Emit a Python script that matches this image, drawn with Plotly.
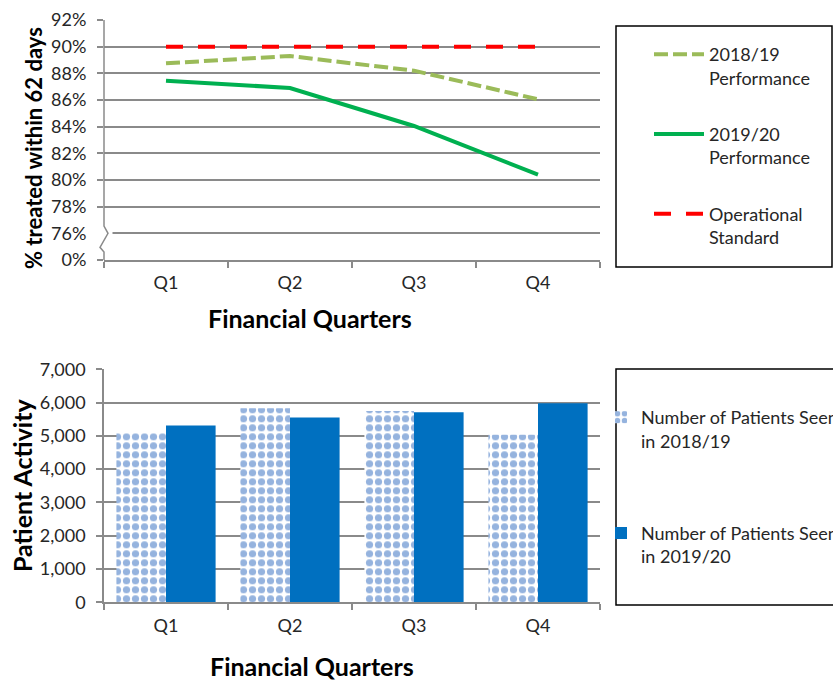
import plotly.graph_objects as go

quarters = ["Q1", "Q2", "Q3", "Q4"]
perf_2018 = [88.75, 89.3, 88.2, 86.05]
perf_2019 = [87.45, 86.9, 84.05, 80.4]
standard = [90, 90, 90, 90]

patients_2018 = [5080, 5830, 5750, 5030]
patients_2019 = [5310, 5550, 5710, 5980]

pct_tickvals = [74, 76, 78, 80, 82, 84, 86, 88, 90, 92]
pct_ticktext = ["0%", "76%", "78%", "80%", "82%", "84%", "86%", "88%", "90%", "92%"]

W, H = 833, 681
FONT = "Lato, 'Open Sans', sans-serif"
GRID = "#8a8a8a"
TXT = "#262626"

def px(x):
    return x / W

def py(y):
    return 1 - y / H

fig = go.Figure()

fig.add_trace(go.Scatter(x=quarters, y=perf_2018, mode="lines", name="2018/19<br>Performance",
                         line=dict(color="#9BBB59", width=4, dash="14px,5px"),
                         xaxis="x", yaxis="y", legend="legend", legendgroup="a"))
fig.add_trace(go.Scatter(x=quarters, y=perf_2019, mode="lines", name="2019/20<br>Performance",
                         line=dict(color="#00B050", width=4),
                         xaxis="x", yaxis="y", legend="legend", legendgroup="b"))
fig.add_trace(go.Scatter(x=quarters, y=standard, mode="lines", name="Operational<br>Standard",
                         line=dict(color="#FF0000", width=4, dash="17px,15px"),
                         xaxis="x", yaxis="y", legend="legend", legendgroup="c"))

fig.add_trace(go.Bar(x=quarters, y=patients_2018, name="Number of Patients Seen<br>in 2018/19",
                     marker=dict(color="white", line=dict(width=0),
                                 pattern=dict(shape=".", fgcolor="#95B3DE", bgcolor="white",
                                              size=9, solidity=0.5, fillmode="replace")),
                     xaxis="x2", yaxis="y2", legend="legend2", legendgroup="d"))
fig.add_trace(go.Bar(x=quarters, y=patients_2019, name="Number of Patients Seen<br>in 2019/20",
                     marker=dict(color="#0070C0", line=dict(width=0)),
                     xaxis="x2", yaxis="y2", legend="legend2", legendgroup="e"))

xdom = [px(104), px(600)]
TICKFONT = dict(family=FONT, size=18, color=TXT)
xaxis_common = dict(showline=True, linecolor=GRID, linewidth=1.5, type="category",
                    tickson="boundaries", showgrid=False, range=[-0.5, 3.5],
                    ticks="outside", tickcolor=GRID, ticklen=6, tickwidth=1.5,
                    ticklabelstandoff=6, tickfont=TICKFONT)

fig.update_layout(
    width=W, height=H,
    margin=dict(l=0, r=0, t=0, b=0, autoexpand=False),
    paper_bgcolor="white", plot_bgcolor="white",
    barmode="group", bargap=0.2, bargroupgap=0,
    font=dict(family=FONT, color=TXT),
    xaxis=dict(domain=xdom, anchor="y", **xaxis_common),
    yaxis=dict(domain=[py(260), py(20)], anchor="x", range=[74, 92],
               tickvals=pct_tickvals, ticktext=pct_ticktext,
               showgrid=True, gridcolor=GRID, gridwidth=1.5, zeroline=False,
               ticks="outside", tickcolor=GRID, ticklen=6, tickwidth=1.5,
               ticklabelstandoff=7, showline=False, tickfont=TICKFONT),
    xaxis2=dict(domain=xdom, anchor="y2", **xaxis_common),
    yaxis2=dict(domain=[py(602.3), py(369.3)], anchor="x2", range=[0, 7000],
                dtick=1000, tickformat=",", showgrid=True, gridcolor=GRID, gridwidth=1.5,
                zeroline=False, showline=True, linecolor=GRID, linewidth=1.5,
                ticks="outside", tickcolor=GRID, ticklen=6, tickwidth=1.5,
                ticklabelstandoff=7, tickfont=TICKFONT),
    legend=dict(x=px(649), y=py(36), xanchor="left", yanchor="top",
                bgcolor="rgba(0,0,0,0)", borderwidth=0, valign="top",
                itemwidth=50, tracegroupgap=30, traceorder="grouped",
                font=dict(family=FONT, size=18, color=TXT)),
    legend2=dict(x=px(601), y=py(399), xanchor="left", yanchor="top",
                 bgcolor="rgba(0,0,0,0)", borderwidth=0, valign="top",
                 tracegroupgap=66, traceorder="grouped",
                 font=dict(family=FONT, size=18, color=TXT)),
    showlegend=True,
)

shapes = [
    dict(type="rect", xref="paper", yref="paper", x0=px(616), x1=px(832), y0=py(267), y1=py(26),
         line=dict(color="black", width=1.5), fillcolor="rgba(0,0,0,0)"),
    dict(type="rect", xref="paper", yref="paper", x0=px(616), x1=px(840), y0=py(605), y1=py(369),
         line=dict(color="black", width=1.5), fillcolor="rgba(0,0,0,0)"),
    dict(type="line", xref="paper", yref="y", x0=px(95), x1=px(112.5), y0=76, y1=76,
         line=dict(color="white", width=3), layer="above"),
    dict(type="path", xref="paper", yref="y", layer="above",
         path=(f"M {px(104)},92 L {px(104)},76.55 L {px(108)},76.0 "
               f"L {px(100)},74.95 L {px(104)},74.6 L {px(104)},74"),
         line=dict(color=GRID, width=1.5)),
]
fig.update_layout(shapes=shapes)

TITLEFONT = dict(family=FONT, size=25, color="black")
annotations = [
    dict(text="<b>% treated within 62 days</b>", x=px(33), y=py(148), xref="paper", yref="paper",
         xanchor="center", yanchor="middle", textangle=-90, showarrow=False,
         font=dict(family=FONT, size=22, color="black")),
    dict(text="<b>Financial Quarters</b>", x=px(310), y=py(318), xref="paper", yref="paper",
         xanchor="center", yanchor="middle", showarrow=False, font=TITLEFONT),
    dict(text="<b>Patient Activity</b>", x=px(22), y=py(485), xref="paper", yref="paper",
         xanchor="center", yanchor="middle", textangle=-90, showarrow=False, font=TITLEFONT),
    dict(text="<b>Financial Quarters</b>", x=px(312), y=py(666), xref="paper", yref="paper",
         xanchor="center", yanchor="middle", showarrow=False, font=TITLEFONT),
]
fig.update_layout(annotations=annotations)

fig.write_html("out.html", config={"displayModeBar": False},
               post_script="document.body.style.margin='0';document.body.style.overflow='hidden';")
